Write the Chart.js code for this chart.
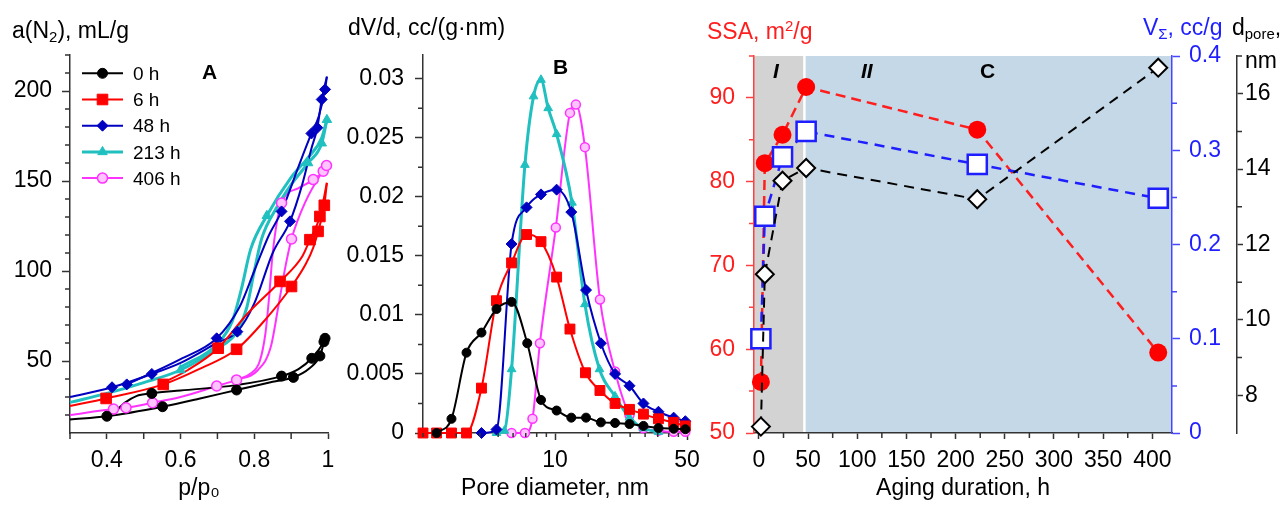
<!DOCTYPE html>
<html>
<head>
<meta charset="utf-8">
<script src="https://cdn.jsdelivr.net/npm/chart.js"></script>
<style>
html, body { margin: 0; padding: 0; background: #fff; }
#wrap { position: relative; width: 1283px; height: 505px; overflow: hidden; }
canvas { position: absolute; top: 0; }
.t { position: absolute; font-family: "Liberation Sans", Arial, sans-serif; font-size: 23px; line-height: 23px; white-space: nowrap; color: #000; }
.t sub { font-size: 0.65em; vertical-align: -0.3em; line-height: 0; }
.t sup { font-size: 0.65em; vertical-align: 0.55em; line-height: 0; }
.lt { font-size: 21px; line-height: 21px; font-weight: bold; }
</style>
</head>
<body>
<div id="wrap">
  <canvas id="cA" width="345" height="505" style="left:0px"></canvas>
  <canvas id="cB" width="370" height="505" style="left:345px"></canvas>
  <canvas id="cC" width="583" height="505" style="left:700px"></canvas>

  <div class="t" style="left:12px;top:19px">a(N<sub>2</sub>), mL/g</div>
  <div class="t" style="left:348px;top:16px">dV/d, cc/(g·nm)</div>
  <div class="t" style="left:707px;top:20px;color:#ff1e1e">SSA, m<sup>2</sup>/g</div>
  <div class="t" style="left:1143px;top:16px;color:#1e1eff">V<sub>Σ</sub>, cc/g</div>
  <div class="t" style="left:1232px;top:16px">d<sub>pore</sub>,</div>
  <div class="t" style="left:1245px;top:49px">nm</div>

  <div class="t lt" style="left:202px;top:61px">A</div>
  <div class="t lt" style="left:553px;top:56px">B</div>
  <div class="t lt" style="left:980px;top:60px">C</div>
  <div class="t lt" style="left:773px;top:60px;font-style:italic">I</div>
  <div class="t lt" style="left:861px;top:60px;font-style:italic">II</div>
</div>

<script>
// ---------- A: N2 isotherms, [p/p0, mL/g] ----------
const sampleLabels = ['0 h', '6 h', '48 h', '213 h', '406 h'];

const iso0hAds = [[0.30,17.5],[0.40,19.3],[0.551,24.6],[0.65,29],[0.752,33.9],[0.85,38.5],[0.906,40.9],[0.95,46],[0.978,52.8],[0.992,62.6]];
const iso0hDes = [[0.405,19.6],[0.425,22.5],[0.45,27],[0.48,30.5],[0.522,32.0],[0.6,33.6],[0.75,36.6],[0.874,41.6],[0.92,45.5],[0.956,51.5],[0.989,60.7],[0.994,63]];
const iso0hPts = [[0.40,19.3],[0.522,32.0],[0.551,24.6],[0.752,33.9],[0.874,41.6],[0.906,40.9],[0.956,51.5],[0.978,52.8],[0.989,60.7],[0.992,62.6]];

const iso6hAds = [[0.30,25],[0.398,29.2],[0.553,37],[0.65,45.5],[0.752,56.5],[0.83,73],[0.901,91.4],[0.94,104],[0.96,113],[0.973,122],[0.99,136.5],[0.997,149]];
const iso6hDes = [[0.553,38],[0.62,45],[0.702,57.1],[0.78,76],[0.870,94.2],[0.93,108],[0.951,117.4],[0.978,130.3],[0.997,149]];
const iso6hPts = [[0.398,29.2],[0.553,37],[0.702,57.1],[0.752,56.5],[0.870,94.2],[0.901,91.4],[0.951,117.4],[0.973,122],[0.978,130.3],[0.99,136.5]];

const iso48hAds = [[0.30,30],[0.414,35.4],[0.522,42.8],[0.6,49],[0.698,60],[0.754,66.3],[0.8,82],[0.85,110],[0.897,127.6],[0.93,148],[0.955,168],[0.971,179.6],[0.983,195.3],[0.997,208]];
const iso48hDes = [[0.454,37],[0.6,51],[0.698,62.6],[0.76,80],[0.8,100],[0.84,120],[0.874,133.1],[0.92,158],[0.955,176.4],[0.975,186],[0.992,200.9],[0.997,208]];
const iso48hPts = [[0.414,35.4],[0.454,37],[0.522,42.8],[0.698,62.6],[0.754,66.3],[0.874,133.1],[0.897,127.6],[0.955,176.4],[0.971,179.6],[0.983,195.3],[0.992,200.9]];

const iso213hAds = [[0.30,27],[0.4,32],[0.5,38],[0.6,45],[0.7,57],[0.752,66],[0.78,80],[0.80,100],[0.82,118],[0.86,135],[0.9,148],[0.946,160],[0.983,171],[0.997,184]];
const iso213hDes = [[0.6,46.5],[0.7,59.5],[0.74,72],[0.765,90],[0.79,112],[0.834,130.7],[0.9,152],[0.946,163],[0.983,174],[0.997,184]];
const iso213hPts = [[0.6,45],[0.7,59],[0.752,66],[0.834,130.7],[0.946,160],[0.983,171],[0.997,184]];

const iso406hAds = [[0.30,20],[0.418,23.3],[0.452,24],[0.524,26.8],[0.6,30],[0.698,36.1],[0.752,39.5],[0.81,45],[0.845,58],[0.865,80],[0.885,103],[0.901,117.8],[0.94,139],[0.975,152],[0.996,158.6]];
const iso406hDes = [[0.752,39.5],[0.79,43],[0.815,50],[0.83,65],[0.84,85],[0.85,110],[0.874,137.8],[0.92,146],[0.96,150.8],[0.987,155.4],[0.996,158.6]];
const iso406hPts = [[0.418,23.3],[0.452,24],[0.524,26.8],[0.698,36.1],[0.752,39.5],[0.874,137.8],[0.901,117.8],[0.96,150.8],[0.987,155.4],[0.996,158.6]];

// ---------- B: pore size distributions, [nm, cc/(g·nm)] ----------
const psd0h = [[2.36,0],[2.83,0.0012],[3.40,0.0068],[4.08,0.0085],[4.90,0.0105],[5.89,0.0111],[7.13,0.0076],[8.43,0.0028],[10.2,0.0019],[12.2,0.0013],[14.6,0.0013],[17.5,0.0009],[20.8,0.00085],[24.8,0.00076],[29.4,0.0006],[35.3,0.00042],[42.5,0.00036],[49,0.00032]];
const psd6h = [[2.0,0],[2.36,0],[2.83,0],[3.40,0],[4.08,0.0038],[4.90,0.0112],[5.89,0.0144],[7.07,0.0168],[8.43,0.0162],[10.2,0.0132],[12.0,0.0088],[14.5,0.0051],[17.3,0.0036],[20.8,0.0025],[24.8,0.0020],[29.4,0.0016],[35.3,0.0012],[42.5,0.0009],[49,0.0006]];
const psd48h = [[4.08,0],[4.90,0.0003],[5.89,0.0160],[7.07,0.0191],[8.43,0.0202],[10.2,0.0206],[12.2,0.0187],[14.6,0.0121],[17.5,0.0076],[20.8,0.0050],[24.8,0.0040],[29.4,0.0025],[35.3,0.0018],[42.5,0.0013],[49,0.0010]];
const psd213h = [[4.90,0],[5.40,0.0002],[5.89,0.0054],[6.93,0.0227],[7.7,0.0285],[8.43,0.0299],[9.2,0.0275],[10.2,0.0253],[12.3,0.0195],[14.4,0.0109],[17.2,0.0054],[20.8,0.0031],[24.8,0.0013],[29.4,0.0004],[35.3,0.0001]];
const psd406h = [[5.89,0],[6.93,0],[7.6,0.0012],[8.32,0.0076],[10.1,0.0174],[12.0,0.0271],[12.9,0.0278],[14.4,0.0242],[17.3,0.0113],[20.8,0.0052],[24.8,0.0015],[29.4,0.0004],[35.3,0.0002],[42.5,0.0001],[49,0.0001]];

// ---------- C: textural parameters vs aging time ----------
const agingHours = [2, 6, 24, 48, 222, 406];
const ssaValues = [56.1, 82.2, 85.6, 91.3, 86.2, 59.6];
const vSumValues = [0.100, 0.230, 0.293, 0.320, 0.285, 0.249];
const dPoreValues = [7.17, 11.21, 13.69, 14.03, 13.2, 16.69];
const stageSpans = [[-5, 45], [47.5, 420]];

// ---------- ticks ----------
const aXTicks = [0.4, 0.6, 0.8, 1];
const aXMinor = [0.3, 0.5, 0.7, 0.9];
const aYTicks = [50, 100, 150, 200];
const aYMinor = [20, 30, 40, 60, 70, 80, 90, 110, 120, 130, 140, 160, 170, 180, 190, 210, 220];
const bXTicks = [10, 50];
const bXMinor = [2, 3, 4, 5, 6, 7, 8, 9, 15, 20, 25, 30, 35, 40, 45];
const bYTicks = [0, 0.005, 0.01, 0.015, 0.02, 0.025, 0.03];
const bYMinor = [0.0025, 0.0075, 0.0125, 0.0175, 0.0225, 0.0275];
const cXTicks = [0, 50, 100, 150, 200, 250, 300, 350, 400];
const cXMinor = [25, 75, 125, 175, 225, 275, 325, 375];
const cSsaTicks = [50, 60, 70, 80, 90];
const cSsaMinor = [55, 65, 75, 85, 95];
const cVTicks = [0, 0.1, 0.2, 0.3, 0.4];
const cVMinor = [0.05, 0.15, 0.25, 0.35];
const cDTicks = [8, 10, 12, 14, 16];
const cDMinor = [9, 11, 13, 15, 17];

// styles
const sampleStyle = [
  { color: '#000000', fill: '#000000', shape: 'circle',   rA: 5,   rB: 4.5, bw: 1,   lw: 2 },
  { color: '#ff0000', fill: '#ff0000', shape: 'rect',     rA: 7.5, rB: 7,   bw: 1,   lw: 2 },
  { color: '#0000c0', fill: '#0000c0', shape: 'rectRot',  rA: 5.5, rB: 5.5, bw: 1,   lw: 2 },
  { color: '#20c0c0', fill: '#20c0c0', shape: 'triangle', rA: 5.5, rB: 5,   bw: 1,   lw: 3 },
  { color: '#ff33ff', fill: '#ffc4ff', shape: 'circle',   rA: 5,   rB: 4.5, bw: 1.5, lw: 2 }
];
const FONT = '"Liberation Sans", Arial, Helvetica, sans-serif';
const AXIS = '#333333';
const RED = '#ff1e1e';
const BLUE = '#1e1eff';

Chart.defaults.font.family = FONT;
Chart.defaults.color = '#000';

function axis(o) {
  return {
    type: o.type || 'linear',
    position: o.pos,
    min: o.min,
    max: o.max,
    weight: o.weight || 0,
    border: { display: true, color: o.color, width: 1.5 },
    grid: { display: true, drawOnChartArea: false, drawTicks: true, tickLength: o.tl, tickColor: o.color, tickWidth: 1.5 },
    ticks: { color: o.text || o.color, font: { size: 23 }, padding: o.pad, autoSkip: false, maxRotation: 0, minRotation: 0, callback: v => String(v) },
    title: o.title ? { display: true, text: o.title, color: '#000', font: { size: 23 }, padding: { top: 0, bottom: 3 } } : { display: false },
    afterBuildTicks: s => { s.ticks = o.ticks.map(v => ({ value: v })); },
    afterFit: s => {
      if (o.w != null) s.width = o.w;
      if (o.h != null) s.height = o.h;
    }
  };
}

function minorTicks(specs) {
  return {
    id: 'minorTicks',
    afterDraw(chart) {
      const ctx = chart.ctx;
      specs.forEach(s => {
        const sc = chart.scales[s.axis];
        ctx.save();
        ctx.strokeStyle = s.color;
        ctx.lineWidth = 1.5;
        ctx.beginPath();
        s.values.forEach(v => {
          const p = sc.getPixelForValue(v);
          if (sc.isHorizontal()) { ctx.moveTo(p, sc.top); ctx.lineTo(p, sc.top + s.len); }
          else if (sc.position === 'left') { ctx.moveTo(sc.right, p); ctx.lineTo(sc.right - s.len, p); }
          else { ctx.moveTo(sc.left, p); ctx.lineTo(sc.left + s.len, p); }
        });
        ctx.stroke();
        ctx.restore();
      });
    }
  };
}

// marker for the hand-drawn legend (same geometry as chart.js point styles)
function drawMarker(ctx, shape, x, y, r, fill, stroke, bw) {
  ctx.beginPath();
  if (shape === 'circle') {
    ctx.arc(x, y, r, 0, Math.PI * 2);
  } else if (shape === 'rect') {
    const s = r * Math.SQRT1_2;
    ctx.rect(x - s, y - s, 2 * s, 2 * s);
  } else if (shape === 'rectRot') {
    ctx.moveTo(x - r, y); ctx.lineTo(x, y - r); ctx.lineTo(x + r, y); ctx.lineTo(x, y + r); ctx.closePath();
  } else if (shape === 'triangle') {
    let a = 0;
    ctx.moveTo(x + Math.sin(a) * r, y - Math.cos(a) * r);
    a += Math.PI * 2 / 3;
    ctx.lineTo(x + Math.sin(a) * r, y - Math.cos(a) * r);
    a += Math.PI * 2 / 3;
    ctx.lineTo(x + Math.sin(a) * r, y - Math.cos(a) * r);
    ctx.closePath();
  }
  ctx.fillStyle = fill;
  ctx.fill();
  if (bw) { ctx.lineWidth = bw; ctx.strokeStyle = stroke; ctx.stroke(); }
}

const legendA = {
  id: 'legendA',
  afterDraw(chart) {
    const ctx = chart.ctx;
    ctx.save();
    ctx.font = '19px ' + FONT;
    ctx.textBaseline = 'middle';
    ctx.textAlign = 'left';
    sampleLabels.forEach((lab, i) => {
      const st = sampleStyle[i];
      const y = 73.3 + i * 26.2;
      ctx.strokeStyle = st.color;
      ctx.lineWidth = st.lw;
      ctx.beginPath(); ctx.moveTo(82, y); ctx.lineTo(123, y); ctx.stroke();
      drawMarker(ctx, st.shape, 102.5, y, st.rA, st.fill, st.color, st.bw);
      ctx.fillStyle = '#000';
      ctx.fillText(lab, 133, y + 1.5);
    });
    ctx.restore();
  }
};

const stageBands = {
  id: 'stageBands',
  beforeDraw(chart) {
    const { ctx, chartArea } = chart;
    const x = chart.scales.x;
    const fills = ['#d3d3d3', '#c4d8e7'];
    ctx.save();
    stageSpans.forEach((sp, i) => {
      const x0 = x.getPixelForValue(sp[0]);
      const x1 = x.getPixelForValue(sp[1]);
      ctx.fillStyle = fills[i];
      ctx.fillRect(x0, chartArea.top, x1 - x0, chartArea.bottom - chartArea.top);
    });
    ctx.restore();
  }
};

function baseOptions(padding, scales) {
  return {
    responsive: false,
    animation: false,
    devicePixelRatio: 1,
    events: [],
    layout: { padding: padding },
    plugins: { legend: { display: false }, tooltip: { enabled: false } },
    scales: scales
  };
}

// ---------- chart A ----------
const isoAds = [iso0hAds, iso6hAds, iso48hAds, iso213hAds, iso406hAds];
const isoDes = [iso0hDes, iso6hDes, iso48hDes, iso213hDes, iso406hDes];
const isoPts = [iso0hPts, iso6hPts, iso48hPts, iso213hPts, iso406hPts];
const dsA = [];
sampleLabels.forEach((lab, i) => {
  const st = sampleStyle[i];
  [isoAds[i], isoDes[i]].forEach(d => dsA.push({
    label: lab, data: d, borderColor: st.color, borderWidth: st.lw,
    pointRadius: 0, cubicInterpolationMode: 'monotone', order: 10 + i, clip: false
  }));
  dsA.push({
    label: lab, data: isoPts[i], showLine: false,
    pointStyle: st.shape, pointRadius: st.rA, pointBackgroundColor: st.fill,
    pointBorderColor: st.color, pointBorderWidth: st.bw, order: i, clip: false
  });
});

new Chart(document.getElementById('cA'), {
  type: 'line',
  data: { datasets: dsA },
  options: baseOptions({ top: 55, right: 17, left: 0, bottom: 0 }, {
    x: axis({ pos: 'bottom', min: 0.3, max: 1.0, ticks: aXTicks, color: AXIS, text: '#000', tl: 6, pad: 8, h: 72, title: 'p/p₀' }),
    y: axis({ pos: 'left', min: 10, max: 220, ticks: aYTicks, color: AXIS, text: '#000', tl: 8, pad: 10, w: 70 })
  }),
  plugins: [legendA, minorTicks([
    { axis: 'x', values: aXMinor, len: 6, color: AXIS },
    { axis: 'y', values: aYMinor, len: 5, color: AXIS }
  ])]
});

// ---------- chart B ----------
const psdSeries = [psd0h, psd6h, psd48h, psd213h, psd406h];
const dsB = sampleLabels.map((lab, i) => {
  const st = sampleStyle[i];
  return {
    label: lab, data: psdSeries[i], borderColor: st.color, borderWidth: st.lw,
    cubicInterpolationMode: 'monotone',
    pointStyle: st.shape, pointRadius: st.rB, pointBackgroundColor: st.fill,
    pointBorderColor: st.color, pointBorderWidth: st.bw, order: i, clip: false
  };
});

new Chart(document.getElementById('cB'), {
  type: 'line',
  data: { datasets: dsB },
  options: baseOptions({ top: 55, right: 28, left: 0, bottom: 0 }, {
    x: axis({ type: 'logarithmic', pos: 'bottom', min: 2, max: 50, ticks: bXTicks, color: AXIS, text: '#000', tl: 7, pad: 7, h: 72, title: 'Pore diameter, nm' }),
    y: axis({ pos: 'left', min: 0, max: 0.032, ticks: bYTicks, color: AXIS, text: '#000', tl: 8, pad: 11, w: 78 })
  }),
  plugins: [minorTicks([
    { axis: 'x', values: bXMinor, len: 4, color: AXIS },
    { axis: 'y', values: bYMinor, len: 5, color: AXIS }
  ])]
});

// ---------- chart C ----------
const pts = vals => agingHours.map((h, i) => ({ x: h, y: vals[i] }));
const dsC = [
  { label: 'd pore', data: pts(dPoreValues), yAxisID: 'yD', borderColor: '#000', borderWidth: 2, borderDash: [10, 7],
    pointStyle: 'rectRot', pointRadius: 9, pointBackgroundColor: '#fff', pointBorderColor: '#000', pointBorderWidth: 2, order: 0, clip: false },
  { label: 'V sum', data: pts(vSumValues), yAxisID: 'yV', borderColor: BLUE, borderWidth: 2.5, borderDash: [10, 7],
    pointStyle: 'rect', pointRadius: 13.5, pointBackgroundColor: '#fff', pointBorderColor: BLUE, pointBorderWidth: 2.5, order: 1, clip: false },
  { label: 'SSA', data: pts(ssaValues), yAxisID: 'y', borderColor: RED, borderWidth: 2.5, borderDash: [10, 6],
    pointStyle: 'circle', pointRadius: 9, pointBackgroundColor: '#ff0000', pointBorderColor: '#ff0000', pointBorderWidth: 0, order: 2, clip: false }
];

new Chart(document.getElementById('cC'), {
  type: 'line',
  data: { datasets: dsC },
  options: baseOptions({ top: 56, right: 0, left: 0, bottom: 0 }, {
    x: axis({ pos: 'bottom', min: -5, max: 420, ticks: cXTicks, color: AXIS, text: '#000', tl: 6, pad: 8, h: 72, title: 'Aging duration, h' }),
    y: axis({ pos: 'left', min: 50, max: 95, ticks: cSsaTicks, color: '#ff4040', text: RED, tl: 8, pad: 11, w: 54 }),
    yV: axis({ pos: 'right', min: 0, max: 0.4, ticks: cVTicks, color: '#4646ff', text: BLUE, tl: 8, pad: 9, w: 65, weight: 0 }),
    yD: axis({ pos: 'right', min: 7, max: 17, ticks: cDTicks, color: AXIS, text: '#000', tl: 6, pad: 2, w: 46, weight: 1 })
  }),
  plugins: [stageBands, minorTicks([
    { axis: 'x', values: cXMinor, len: 5, color: AXIS },
    { axis: 'y', values: cSsaMinor, len: 5, color: '#ff4040' },
    { axis: 'yV', values: cVMinor, len: 5, color: '#4646ff' },
    { axis: 'yD', values: cDMinor, len: 5, color: AXIS }
  ])]
});
</script>
</body>
</html>
